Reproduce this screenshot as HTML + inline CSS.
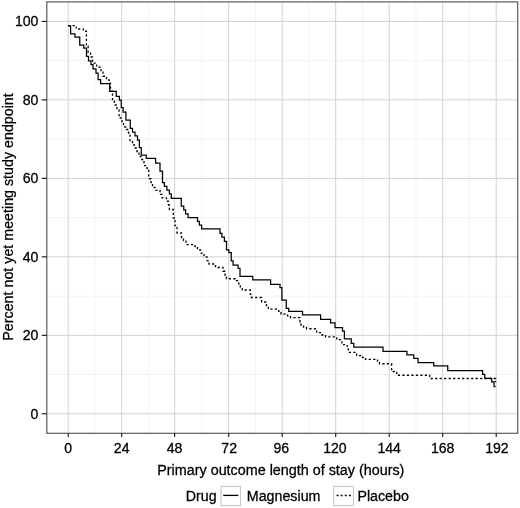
<!DOCTYPE html>
<html lang="en"><head><meta charset="utf-8"><title>Length of stay</title>
<style>html,body{margin:0;padding:0;background:#fff}body{width:520px;height:508px;overflow:hidden}</style></head>
<body>
<svg width="520" height="508" viewBox="0 0 520 508" style="display:block;filter:blur(0.35px)">
<rect width="520" height="508" fill="#fff"/>
<line x1="94.95" x2="94.95" y1="1.9" y2="433.3" stroke="#f3f3f3" stroke-width="1"/>
<line x1="148.45" x2="148.45" y1="1.9" y2="433.3" stroke="#f3f3f3" stroke-width="1"/>
<line x1="201.95" x2="201.95" y1="1.9" y2="433.3" stroke="#f3f3f3" stroke-width="1"/>
<line x1="255.45" x2="255.45" y1="1.9" y2="433.3" stroke="#f3f3f3" stroke-width="1"/>
<line x1="308.95" x2="308.95" y1="1.9" y2="433.3" stroke="#f3f3f3" stroke-width="1"/>
<line x1="362.45" x2="362.45" y1="1.9" y2="433.3" stroke="#f3f3f3" stroke-width="1"/>
<line x1="415.95" x2="415.95" y1="1.9" y2="433.3" stroke="#f3f3f3" stroke-width="1"/>
<line x1="469.45" x2="469.45" y1="1.9" y2="433.3" stroke="#f3f3f3" stroke-width="1"/>
<line y1="374.56" y2="374.56" x1="46.8" x2="517.7" stroke="#f3f3f3" stroke-width="1"/>
<line y1="296.08" y2="296.08" x1="46.8" x2="517.7" stroke="#f3f3f3" stroke-width="1"/>
<line y1="217.60" y2="217.60" x1="46.8" x2="517.7" stroke="#f3f3f3" stroke-width="1"/>
<line y1="139.12" y2="139.12" x1="46.8" x2="517.7" stroke="#f3f3f3" stroke-width="1"/>
<line y1="60.64" y2="60.64" x1="46.8" x2="517.7" stroke="#f3f3f3" stroke-width="1"/>
<line x1="68.20" x2="68.20" y1="1.9" y2="433.3" stroke="#d1d1d1" stroke-width="1"/>
<line x1="121.70" x2="121.70" y1="1.9" y2="433.3" stroke="#d1d1d1" stroke-width="1"/>
<line x1="174.60" x2="174.60" y1="1.9" y2="433.3" stroke="#d1d1d1" stroke-width="1"/>
<line x1="228.70" x2="228.70" y1="1.9" y2="433.3" stroke="#d1d1d1" stroke-width="1"/>
<line x1="282.20" x2="282.20" y1="1.9" y2="433.3" stroke="#d1d1d1" stroke-width="1"/>
<line x1="335.70" x2="335.70" y1="1.9" y2="433.3" stroke="#d1d1d1" stroke-width="1"/>
<line x1="389.20" x2="389.20" y1="1.9" y2="433.3" stroke="#d1d1d1" stroke-width="1"/>
<line x1="442.70" x2="442.70" y1="1.9" y2="433.3" stroke="#d1d1d1" stroke-width="1"/>
<line x1="496.20" x2="496.20" y1="1.9" y2="433.3" stroke="#d1d1d1" stroke-width="1"/>
<line y1="413.80" y2="413.80" x1="46.8" x2="517.7" stroke="#d1d1d1" stroke-width="1"/>
<line y1="335.32" y2="335.32" x1="46.8" x2="517.7" stroke="#d1d1d1" stroke-width="1"/>
<line y1="256.84" y2="256.84" x1="46.8" x2="517.7" stroke="#d1d1d1" stroke-width="1"/>
<line y1="178.36" y2="178.36" x1="46.8" x2="517.7" stroke="#d1d1d1" stroke-width="1"/>
<line y1="99.88" y2="99.88" x1="46.8" x2="517.7" stroke="#d1d1d1" stroke-width="1"/>
<line y1="21.40" y2="21.40" x1="46.8" x2="517.7" stroke="#d1d1d1" stroke-width="1"/>
<path d="M68.00,25.60H76.20V29.00H83.20V31.20H86.40V46.25H88.10V52.50H90.60V57.00H92.50V63.10H96.70V67.20H100.10V69.00H101.00V72.20H103.00V76.25H106.50V80.00H109.20V83.10H110.50V91.25H112.50V101.50H114.50V105.00H117.00V110.00H119.00V118.00H122.00V122.50H123.50V127.00H126.50V129.50H128.50V133.00H130.00V140.60H132.50V145.00H134.50V148.00H137.00V151.50H139.00V156.50H141.00V159.50H144.00V165.60H147.00V168.50H148.75V178.75H151.00V182.50H152.50V187.50H155.00V190.30H160.00V194.40H162.00V197.80H166.50V201.25H168.50V205.00H169.40V209.50H173.30V218.00H175.00V225.60H177.00V233.00H181.50V237.50H183.50V240.60H186.00V244.60H195.00V246.50H197.50V250.00H200.50V253.10H204.00V256.90H207.00V260.60H209.00V264.00H215.50V267.50H223.00V271.25H225.00V275.00H226.50V278.75H236.50V280.60H238.70V283.75H240.30V286.90H242.20V290.00H250.30V294.40H251.50V297.50H261.60V302.00H266.50V305.60H268.40V309.20H278.70V311.25H281.00V314.20H287.50V315.80H290.50V317.70H300.00V322.00H301.00V325.00H303.50V327.00H306.50V328.75H316.60V332.70H322.00V335.00H325.50V336.90H336.80V339.70H341.90V344.60H347.20V348.10H348.30V352.30H356.60V355.60H362.50V357.50H365.50V359.40H377.50V361.90H379.50V363.75H391.60V371.50H396.80V375.25H429.70V378.50H495.60V381.50H496.20" fill="none" stroke="#000" stroke-width="1.3" stroke-dasharray="2.2 2.3"/>
<path d="M68.00,25.60H70.60V33.75H75.00V36.90H79.75V45.00H83.75V48.00H86.50V56.25H88.50V60.60H91.00V64.40H93.00V68.75H96.00V72.80H98.10V79.30H100.60V83.30H109.70V91.10H116.25V96.25H119.40V100.00H121.25V107.50H123.10V111.90H125.90V120.00H130.30V128.10H132.50V131.90H135.00V135.60H137.50V140.00H139.40V147.50H141.25V155.00H146.25V158.10H155.60V162.80H160.00V170.90H162.50V182.50H164.40V186.25H166.90V190.00H169.40V193.75H171.25V198.10H181.25V205.90H183.75V209.70H185.60V213.75H188.10V217.50H197.50V221.25H199.40V225.00H201.60V228.75H220.00V233.10H221.90V236.90H224.40V241.25H226.50V249.70H228.90V252.50H231.25V260.60H233.10V265.00H238.10V268.10H240.00V276.25H252.80V279.70H270.60V284.10H280.00V287.50H281.90V300.00H286.25V308.10H288.75V311.25H302.50V314.75H320.60V319.10H330.60V322.60H335.00V327.50H342.50V330.90H344.40V338.75H351.25V343.10H353.75V346.90H383.00V351.25H406.90V354.60H413.75V358.10H418.10V362.50H433.75V365.75H447.75V370.50H482.60V374.30H484.80V378.30H491.70V381.70H494.10V386.40H495.60" fill="none" stroke="#000" stroke-width="1.25" transform="translate(0,0.2)" stroke-linejoin="miter"/>
<rect x="46.8" y="1.9" width="470.90" height="431.40" fill="none" stroke="#5a5a5a" stroke-width="1.2"/>
<line x1="41.70" x2="46.80" y1="413.80" y2="413.80" stroke="#111" stroke-width="1.1"/>
<text x="38.40" y="418.85" text-anchor="end" font-family="'Liberation Sans',Arial,Helvetica,sans-serif" stroke="#000" stroke-width="0.28" font-size="14.1" fill="#000">0</text>
<line x1="41.70" x2="46.80" y1="335.32" y2="335.32" stroke="#111" stroke-width="1.1"/>
<text x="38.40" y="340.37" text-anchor="end" font-family="'Liberation Sans',Arial,Helvetica,sans-serif" stroke="#000" stroke-width="0.28" font-size="14.1" fill="#000">20</text>
<line x1="41.70" x2="46.80" y1="256.84" y2="256.84" stroke="#111" stroke-width="1.1"/>
<text x="38.40" y="261.89" text-anchor="end" font-family="'Liberation Sans',Arial,Helvetica,sans-serif" stroke="#000" stroke-width="0.28" font-size="14.1" fill="#000">40</text>
<line x1="41.70" x2="46.80" y1="178.36" y2="178.36" stroke="#111" stroke-width="1.1"/>
<text x="38.40" y="183.41" text-anchor="end" font-family="'Liberation Sans',Arial,Helvetica,sans-serif" stroke="#000" stroke-width="0.28" font-size="14.1" fill="#000">60</text>
<line x1="41.70" x2="46.80" y1="99.88" y2="99.88" stroke="#111" stroke-width="1.1"/>
<text x="38.40" y="104.93" text-anchor="end" font-family="'Liberation Sans',Arial,Helvetica,sans-serif" stroke="#000" stroke-width="0.28" font-size="14.1" fill="#000">80</text>
<line x1="41.70" x2="46.80" y1="21.40" y2="21.40" stroke="#111" stroke-width="1.1"/>
<text x="38.40" y="26.45" text-anchor="end" font-family="'Liberation Sans',Arial,Helvetica,sans-serif" stroke="#000" stroke-width="0.28" font-size="14.1" fill="#000">100</text>
<line y1="433.30" y2="436.90" x1="68.20" x2="68.20" stroke="#111" stroke-width="1.1"/>
<text x="68.20" y="452.9" text-anchor="middle" font-family="'Liberation Sans',Arial,Helvetica,sans-serif" stroke="#000" stroke-width="0.28" font-size="14.1" fill="#000">0</text>
<line y1="433.30" y2="436.90" x1="121.70" x2="121.70" stroke="#111" stroke-width="1.1"/>
<text x="121.70" y="452.9" text-anchor="middle" font-family="'Liberation Sans',Arial,Helvetica,sans-serif" stroke="#000" stroke-width="0.28" font-size="14.1" fill="#000">24</text>
<line y1="433.30" y2="436.90" x1="174.60" x2="174.60" stroke="#111" stroke-width="1.1"/>
<text x="174.60" y="452.9" text-anchor="middle" font-family="'Liberation Sans',Arial,Helvetica,sans-serif" stroke="#000" stroke-width="0.28" font-size="14.1" fill="#000">48</text>
<line y1="433.30" y2="436.90" x1="228.70" x2="228.70" stroke="#111" stroke-width="1.1"/>
<text x="229.20" y="452.9" text-anchor="middle" font-family="'Liberation Sans',Arial,Helvetica,sans-serif" stroke="#000" stroke-width="0.28" font-size="14.1" fill="#000">72</text>
<line y1="433.30" y2="436.90" x1="282.20" x2="282.20" stroke="#111" stroke-width="1.1"/>
<text x="281.30" y="452.9" text-anchor="middle" font-family="'Liberation Sans',Arial,Helvetica,sans-serif" stroke="#000" stroke-width="0.28" font-size="14.1" fill="#000">96</text>
<line y1="433.30" y2="436.90" x1="335.70" x2="335.70" stroke="#111" stroke-width="1.1"/>
<text x="334.90" y="452.9" text-anchor="middle" font-family="'Liberation Sans',Arial,Helvetica,sans-serif" stroke="#000" stroke-width="0.28" font-size="14.1" fill="#000">120</text>
<line y1="433.30" y2="436.90" x1="389.20" x2="389.20" stroke="#111" stroke-width="1.1"/>
<text x="389.20" y="452.9" text-anchor="middle" font-family="'Liberation Sans',Arial,Helvetica,sans-serif" stroke="#000" stroke-width="0.28" font-size="14.1" fill="#000">144</text>
<line y1="433.30" y2="436.90" x1="442.70" x2="442.70" stroke="#111" stroke-width="1.1"/>
<text x="442.70" y="452.9" text-anchor="middle" font-family="'Liberation Sans',Arial,Helvetica,sans-serif" stroke="#000" stroke-width="0.28" font-size="14.1" fill="#000">168</text>
<line y1="433.30" y2="436.90" x1="496.20" x2="496.20" stroke="#111" stroke-width="1.1"/>
<text x="496.90" y="452.9" text-anchor="middle" font-family="'Liberation Sans',Arial,Helvetica,sans-serif" stroke="#000" stroke-width="0.28" font-size="14.1" fill="#000">192</text>
<text x="280.85" y="475.2" text-anchor="middle" font-family="'Liberation Sans',Arial,Helvetica,sans-serif" stroke="#000" stroke-width="0.28" font-size="14.35" fill="#000">Primary outcome length of stay (hours)</text>
<text transform="translate(13.2,216.95) rotate(-90)" text-anchor="middle" font-family="'Liberation Sans',Arial,Helvetica,sans-serif" stroke="#000" stroke-width="0.28" font-size="14.28" fill="#000">Percent not yet meeting study endpoint</text>
<text x="185.8" y="501.1" font-family="'Liberation Sans',Arial,Helvetica,sans-serif" stroke="#000" stroke-width="0.28" font-size="14.25" fill="#000">Drug</text>
<rect x="221.0" y="486.4" width="19.6" height="19.2" fill="#fff" stroke="#c4c4c4" stroke-width="1"/>
<line x1="223.2" x2="238.3" y1="495.4" y2="495.4" stroke="#000" stroke-width="1.3"/>
<text x="246.8" y="501.1" font-family="'Liberation Sans',Arial,Helvetica,sans-serif" stroke="#000" stroke-width="0.28" font-size="14.25" fill="#000">Magnesium</text>
<rect x="333.8" y="486.4" width="19.6" height="19.2" fill="#fff" stroke="#c4c4c4" stroke-width="1"/>
<line x1="336.6" x2="350.8" y1="495.4" y2="495.4" stroke="#000" stroke-width="1.45" stroke-dasharray="1.9 2.2"/>
<text x="357.4" y="501.1" font-family="'Liberation Sans',Arial,Helvetica,sans-serif" stroke="#000" stroke-width="0.28" font-size="14.25" fill="#000">Placebo</text>
</svg>
</body></html>
